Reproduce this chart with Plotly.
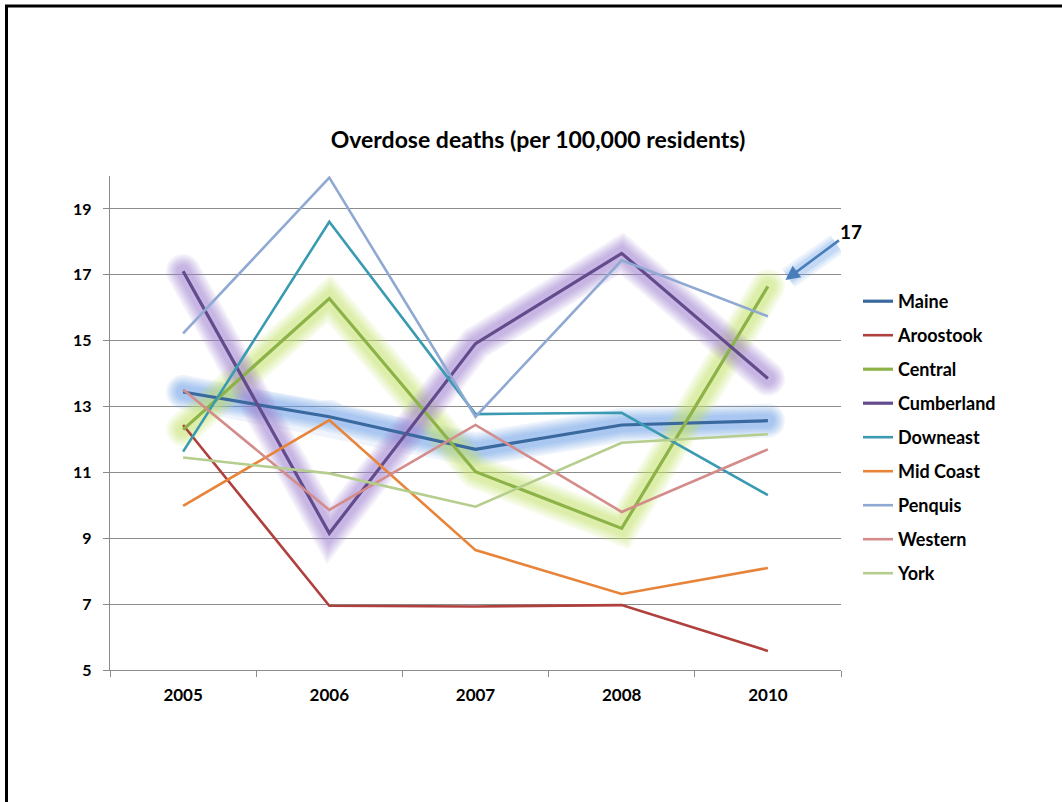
import plotly.graph_objects as go

# Overdose deaths per 100,000 residents by Maine public-health district
years = ["2005", "2006", "2007", "2008", "2010"]

maine = [13.44, 12.69, 11.70, 12.44, 12.57]
aroostook = [12.44, 6.95, 6.93, 6.97, 5.58]
central = [12.30, 16.28, 11.02, 9.30, 16.65]
cumberland = [17.11, 9.15, 14.91, 17.65, 13.85]
downeast = [11.63, 18.61, 12.77, 12.81, 10.31]
mid_coast = [9.98, 12.59, 8.64, 7.31, 8.10]
penquis = [15.22, 19.95, 12.69, 17.44, 15.74]
western = [13.52, 9.86, 12.44, 9.80, 11.70]
york = [11.45, 10.97, 9.96, 11.90, 12.16]

series = [
    ("Maine", maine, "#3A69A0"),
    ("Aroostook", aroostook, "#B0403D"),
    ("Central", central, "#8DB348"),
    ("Cumberland", cumberland, "#634B8C"),
    ("Downeast", downeast, "#3A9AB2"),
    ("Mid Coast", mid_coast, "#E8843A"),
    ("Penquis", penquis, "#8FA9D2"),
    ("Western", western, "#D48C8A"),
    ("York", york, "#B5CE8E"),
]

# highlighted series get a soft glow underneath
glow = {
    "Maine": "rgb(105,160,232)",
    "Central": "rgb(198,228,105)",
    "Cumberland": "rgb(160,128,208)",
}
GLOW_LAYERS = [(34, 0.10), (30, 0.11), (26, 0.12), (22, 0.13), (18, 0.14), (14, 0.15)]

FONT = "Lato"
W, H = 1062, 802
ML, MR, MT, MB = 110, 221, 176, 132

fig = go.Figure()

for name, vals, _ in series:
    if name in glow:
        for width, op in GLOW_LAYERS:
            fig.add_trace(go.Scatter(
                x=years, y=vals, mode="lines+markers",
                line=dict(color=glow[name], width=width),
                marker=dict(color=glow[name], size=width, line=dict(width=0)),
                opacity=op, showlegend=False, hoverinfo="skip",
            ))

for i, (name, vals, color) in enumerate(series):
    fig.add_trace(go.Scatter(
        x=years, y=vals, mode="lines", name=f"<b>{name}</b>",
        line=dict(color=color, width=3.2 if name in glow else 2.6),
        legendgroup=f"g{i}",
    ))

# callout arrow for the latest Central value
callout_value = 17
tip_x, tip_y = 4.12, 16.84
tail_x, tail_y = 4.47, 17.93
for width, op in [(22, 0.12), (17, 0.14), (12, 0.18)]:
    fig.add_shape(type="line", xref="x", yref="y",
                  x0=tail_x, y0=tail_y, x1=tip_x + 0.02, y1=tip_y + 0.06,
                  line=dict(color="rgb(105,160,232)", width=width),
                  opacity=op, layer="above")
fig.add_annotation(
    x=tip_x, y=tip_y, xref="x", yref="y",
    text=f"<b>{callout_value}</b>", showarrow=True,
    ax=66, ay=-49, arrowhead=2, arrowsize=1.1, arrowwidth=2.6,
    arrowcolor="#4A7EBB", font=dict(family=FONT, size=19, color="black"),
)

# chart frame: black rule along top and left edges
pw, ph = W - ML - MR, H - MT - MB
def px_to_paper_x(px):
    return (px - ML) / pw
def px_to_paper_y(py):
    return (H - MB - py) / ph
fig.add_shape(type="line", xref="paper", yref="paper",
              x0=px_to_paper_x(6.5), x1=px_to_paper_x(6.5),
              y0=px_to_paper_y(6), y1=px_to_paper_y(H + 5),
              line=dict(color="black", width=3))
fig.add_shape(type="line", xref="paper", yref="paper",
              x0=px_to_paper_x(5), x1=px_to_paper_x(W + 5),
              y0=px_to_paper_y(6), y1=px_to_paper_y(6),
              line=dict(color="black", width=3))

fig.update_layout(
    width=W, height=H,
    margin=dict(l=ML, r=MR, t=MT, b=MB, pad=0),
    paper_bgcolor="white", plot_bgcolor="white",
    title=dict(text="<b>Overdose deaths (per 100,000 residents)</b>",
               x=538 / W, xanchor="center", y=1 - 140 / H, yanchor="middle",
               font=dict(family=FONT, size=23, color="black")),
    font=dict(family=FONT, color="black"),
    showlegend=True,
    legend=dict(x=px_to_paper_x(858), y=px_to_paper_y(283),
                xanchor="left", yanchor="top",
                traceorder="grouped", tracegroupgap=7.6,
                itemwidth=30,
                font=dict(family=FONT, size=18, color="black"),
                bgcolor="rgba(0,0,0,0)"),
)

fig.update_xaxes(
    type="category", range=[-0.5, 4.5],
    showline=True, linecolor="#8C8C8C", linewidth=1.3,
    ticks="outside", ticklen=6, tickcolor="#8C8C8C", tickson="boundaries",
    showgrid=False, zeroline=False,
    tickvals=years, ticktext=[f"<b>{y}</b>" for y in years],
    tickfont=dict(family=FONT, size=17, color="black"),
    ticklabelstandoff=9,
)
y_ticks = [5, 7, 9, 11, 13, 15, 17, 19]
fig.update_yaxes(
    range=[5, 20], tickvals=y_ticks, ticktext=[f"<b>{t}</b>" for t in y_ticks],
    showline=True, linecolor="#8C8C8C", linewidth=1.3,
    ticks="outside", ticklen=6, tickcolor="#8C8C8C",
    showgrid=True, gridcolor="#8C8C8C", gridwidth=1,
    zeroline=False,
    tickfont=dict(family=FONT, size=16, color="black"),
    ticklabelstandoff=8,
)

fig.write_html("out.html")
